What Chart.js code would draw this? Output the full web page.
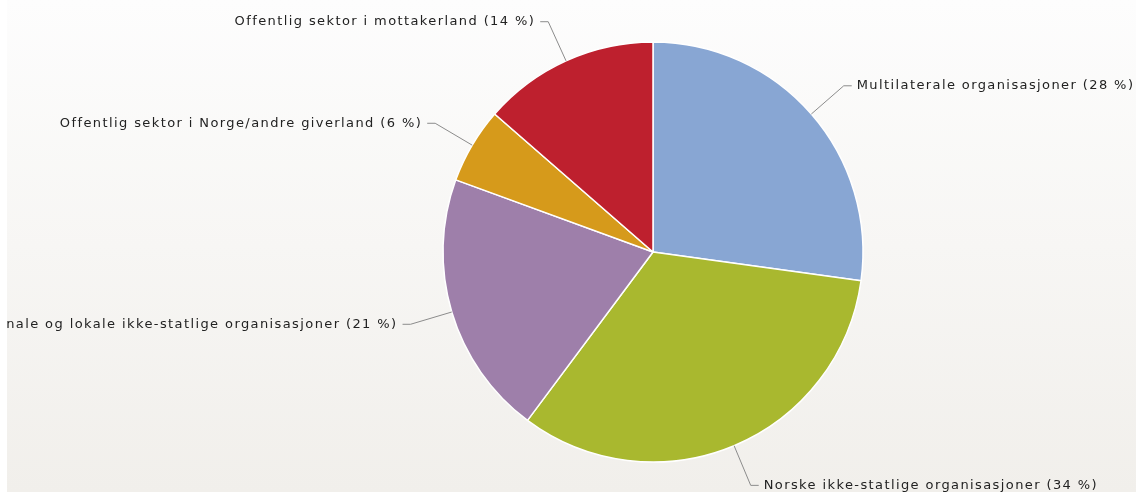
<!DOCTYPE html>
<html>
<head>
<meta charset="utf-8">
<title>Kanaler</title>
<script src="https://cdn.jsdelivr.net/npm/chart.js@4/dist/chart.umd.min.js"></script>
<style>
  body { margin: 0; background: #fff; }
  canvas { display: block; }
</style>
</head>
<body>
<canvas id="grafica-pastel" width="1136" height="495"></canvas>
<script>
// data (share in %)
var kategorier = [
  'Multilaterale organisasjoner',
  'Norske ikke-statlige organisasjoner',
  'Internasjonale og lokale ikke-statlige organisasjoner',
  'Offentlig sektor i Norge/andre giverland',
  'Offentlig sektor i mottakerland'
];
var andeler = [28, 34, 21, 6, 14];
var farger = ['#88a6d3', '#a9b82f', '#9e7faa', '#d69a1b', '#be202e'];

// background with a soft vertical gradient, small white margin left/bottom
var bakgrunn = {
  id: 'bakgrunn',
  beforeDraw: function(chart) {
    var ctx = chart.ctx;
    ctx.save();
    ctx.fillStyle = '#ffffff';
    ctx.fillRect(0, 0, chart.width, chart.height);
    var g = ctx.createLinearGradient(0, 0, 0, 492);
    g.addColorStop(0, '#fdfdfd');
    g.addColorStop(1, '#f1efeb');
    ctx.fillStyle = g;
    ctx.fillRect(7, 0, chart.width - 7, 492);
    ctx.restore();
  }
};

// labels with leader lines outside the slices
var etiketter = {
  id: 'etiketter',
  afterDatasetsDraw: function(chart) {
    var ctx = chart.ctx;
    var meta = chart.getDatasetMeta(0);
    ctx.save();
    ctx.beginPath();
    ctx.rect(7, 0, chart.width - 7, 492);
    ctx.clip();
    ctx.font = '13px "DejaVu Sans"';
    ctx.letterSpacing = '1.4px';
    ctx.textBaseline = 'middle';
    meta.data.forEach(function(arc, i) {
      var p = arc.getProps(['x', 'y', 'startAngle', 'endAngle', 'outerRadius'], true);
      var mid = (p.startAngle + p.endAngle) / 2;
      var cos = Math.cos(mid), sin = Math.sin(mid);
      var x0 = p.x + cos * p.outerRadius, y0 = p.y + sin * p.outerRadius;
      var x1 = p.x + cos * (p.outerRadius + 43), y1 = p.y + sin * (p.outerRadius + 43);
      var dir = cos >= 0 ? 1 : -1;
      var x2 = x1 + dir * 8;
      ctx.strokeStyle = '#8c8c8c';
      ctx.lineWidth = 1;
      ctx.beginPath();
      ctx.moveTo(x0, y0);
      ctx.lineTo(x1, y1);
      ctx.lineTo(x2, y1);
      ctx.stroke();
      ctx.fillStyle = '#222222';
      ctx.textAlign = dir > 0 ? 'left' : 'right';
      ctx.fillText(kategorier[i] + ' (' + andeler[i] + ' %)', x2 + dir * 5, y1);
    });
    ctx.restore();
  }
};

var ctx = document.getElementById('grafica-pastel').getContext('2d');
var chart = new Chart(ctx, {
  type: 'pie',
  data: {
    labels: kategorier,
    datasets: [{
      data: andeler,
      backgroundColor: farger,
      borderColor: '#ffffff',
      borderWidth: 1.5,
      hoverOffset: 0
    }]
  },
  options: {
    responsive: false,
    animation: false,
    radius: 210,
    layout: { padding: { left: 170, right: 0, top: 9, bottom: 0 } },
    plugins: {
      legend: { display: false },
      tooltip: { enabled: false }
    }
  },
  plugins: [bakgrunn, etiketter]
});
</script>
</body>
</html>
